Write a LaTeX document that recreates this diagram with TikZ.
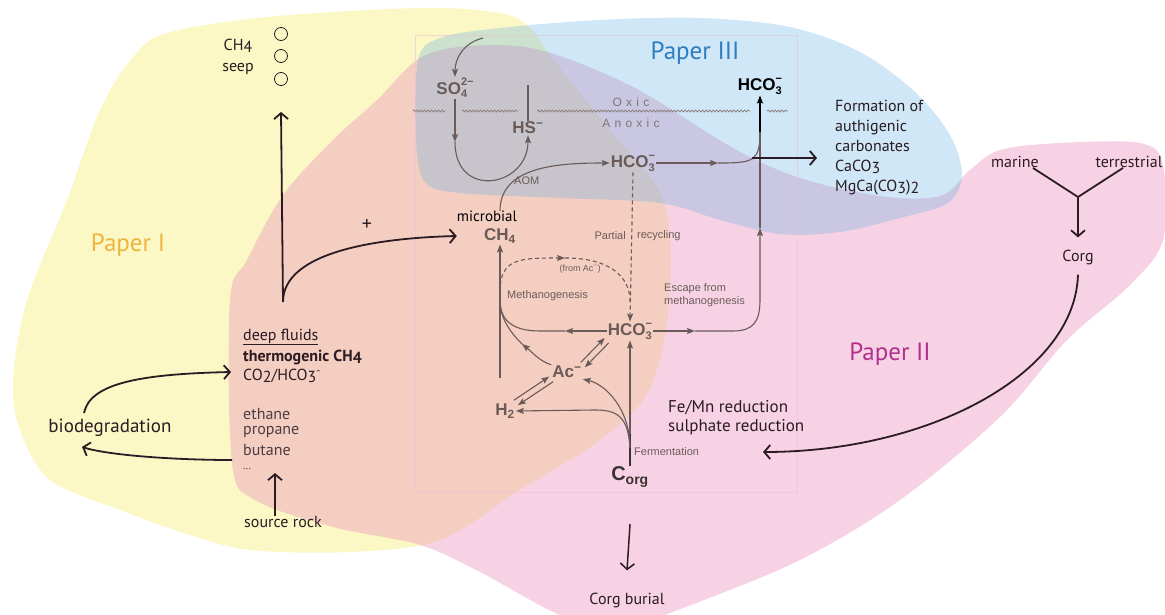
\documentclass[tikz,border=0pt]{standalone}
\usepackage{fontspec}
\setmainfont{PT Sans}
\newfontfamily\procfont{Liberation Sans}
\newfontfamily\spacedfont[LetterSpace=35]{Liberation Sans}
\usetikzlibrary{arrows.meta, positioning, decorations.pathmorphing}
\definecolor{BlobYellow}{HTML}{FCF8C6}
\definecolor{BlobPink}{HTML}{EC94BE}
\definecolor{BlobBlue}{HTML}{5FAFE1}
\definecolor{PaperYellow}{HTML}{EEB43C}
\definecolor{PaperPink}{HTML}{B0308C}
\definecolor{PaperBlue}{HTML}{2D7DC0}
\definecolor{ProcGray}{HTML}{6A5B58}
\definecolor{InkDark}{HTML}{2B1B22}
\newcommand{\subsup}[2]{\rlap{\raisebox{-0.4ex}{\fontsize{11}{11}\selectfont#1}}%
    \raisebox{0.95ex}{\fontsize{11}{11}\selectfont#2}}
\newcommand{\oldnum}[1]{\raisebox{-0.25ex}{#1}}

\begin{document}
\begin{tikzpicture}[x=1pt, y=-1pt,
    ann/.style={font=\fontsize{16}{19}\selectfont, text=InkDark, inner sep=0pt},
    paper/.style={font=\fontsize{25}{28}\selectfont, inner sep=0pt},
    chem/.style={font=\procfont\bfseries\fontsize{17}{19}\selectfont, text=ProcGray, inner sep=1pt},
    tiny/.style={font=\procfont\fontsize{11}{13}\selectfont, text=ProcGray, inner sep=0pt},
    flux/.style={line width=1.8pt, InkDark, -{Straight Barb[length=6pt,width=14pt]}},
    proc/.style={line width=1.1pt, ProcGray, -{Stealth[length=8pt,width=6pt,inset=1.5pt]}},
    procline/.style={line width=1.1pt, ProcGray},
]
\useasboundingbox (0,0) rectangle (1165,615);

% ---- the three papers ----
\fill[BlobYellow] plot[smooth cycle, tension=0.55] coordinates {
    (133,57) (167,33) (267,17) (420,8) (500,13) (530,28) (552,58) (610,130) (665,205)
    (668,313) (648,392) (600,440) (520,490) (440,540) (350,552) (250,550) (190,535)
    (120,510) (50,480) (20,430) (13,380) (27,300) (67,200) (100,110)};
\fill[BlobPink, fill opacity=0.42] plot[smooth cycle, tension=0.55] coordinates {
    (377,100) (420,58) (470,46) (540,50) (633,87) (733,148) (800,178) (880,196)
    (940,196) (970,170) (1000,150) (1060,143) (1140,143) (1163,165) (1163,240)
    (1130,285) (1067,340) (1000,417) (900,500) (800,560) (683,608) (620,628)
    (560,615) (480,572) (420,545) (333,527) (255,500) (232,463) (230,300)
    (247,260) (283,195) (333,140)};
\fill[BlobBlue, fill opacity=0.3] plot[smooth cycle, tension=0.55] coordinates {
    (418,60) (440,38) (500,28) (600,20) (700,18) (790,27) (860,52) (915,92) (950,135)
    (962,175) (948,203) (900,218) (840,232) (780,234) (720,220) (660,203) (560,198)
    (460,193) (425,182) (416,140)};
\draw[PaperPink!30, opacity=0.6, line width=0.6pt] (415,35) rectangle (797,492);

% ---- oxic / anoxic boundary ----
\foreach \a/\b in {413/445, 462/518, 537/750, 767/788}
    \draw[ProcGray!80, line width=0.7pt, decorate,
        decoration={snake, amplitude=1pt, segment length=3.5pt}] (\a,111) -- (\b,111);
\node[tiny, font=\spacedfont\fontsize{12}{14}\selectfont, text=ProcGray!85] (oxic) at (631,102) {Oxic};
\node[tiny, font=\spacedfont\fontsize{12}{14}\selectfont, text=ProcGray!85] (anoxic) at (631,123) {Anoxic};

% ---- species ----
\node[chem] (so4) at (455,88) {SO\subsup{4}{2−}};
\node[chem] (hs) at (528,128) {HS\textsuperscript{−}};
\node[chem, text=black] (hcotop) at (760,86) {HCO\subsup{3}{−}};
\node[chem] (hcoa) at (633,163) {HCO\subsup{3}{−}};
\node[chem] (ch4) at (500,236) {CH\textsubscript{4}};
\node[ann, font=\fontsize{15}{17}\selectfont, text=black, anchor=south] (micro) at (487,222) {microbial};
\node[chem] (hcob) at (630,331) {HCO\subsup{3}{−}};
\node[chem] (ac) at (567,372) {Ac\textsuperscript{−}};
\node[chem] (htwo) at (505,411) {H\textsubscript{2}};
\node[chem, text=ProcGray!55!black, font=\procfont\bfseries\fontsize{20}{22}\selectfont] (corg) at (630,477) {C\textsubscript{org}};

\node[tiny, right] (aom) at (514,181) {AOM};
\node[tiny, left] (partial) at (626,236) {Partial};
\node[tiny, right] (recyc) at (637,236) {recycling};
\node[tiny, font=\procfont\fontsize{9}{11}\selectfont] (fromac) at (580,269) {(from Ac\textsuperscript{−})};
\node[tiny, right] (methano) at (507,296) {Methanogenesis};
\node[tiny, right, align=left] (escape) at (664,295) {Escape from\\methanogenesis};
\node[tiny, right] (ferm) at (634,452) {Fermentation};

% ---- process arrows ----
\coordinate (so4In) at (483,38);
\coordinate (so4mid) at (455,142);
\coordinate (hmid) at (718,163);
\coordinate (upjoin) at (760,132);
\coordinate (ch4base) at (500,378);
\coordinate (mg) at (500,300);
\coordinate (dashTop) at (565,258);
\coordinate (hleft) at (565,331);
\coordinate (hright) at (695,331);
\coordinate (bend) at (733,331);
\coordinate (rise) at (760,300);
\coordinate (upArr) at (760,228);
\coordinate (acMid) at (522,344);
\coordinate (fork2) at (630,448);
\coordinate (hbend) at (595,410);

\draw[proc] (so4In) .. controls +(-20,5) and +(0,-18) .. (so4.north);
\draw[proc] (so4.south) -- (so4mid);
\draw[proc] (so4mid) .. controls +(0,58) and +(0,52) .. (hs.south);
\draw[procline] (hs.north) -- ++(0,-36);
\draw[proc] (ch4.north |- micro.north) .. controls +(0,-45) and +(-50,0) .. (hcoa.west);
\draw[proc] (hcoa.east) -- (hmid);
\draw[procline] (hmid) .. controls +(35,0) and +(0,30) .. (upjoin);
\draw[proc, black, line width=1.7pt] (upjoin) -- (hcotop.south);
\draw[proc, dash pattern=on 4pt off 3pt] (hcoa.south) -- (hcob.north);
\draw[proc] (ch4base) -- (ch4.south);
\draw[proc, dash pattern=on 4pt off 3pt] (mg) ++(0,-8) .. controls +(0,-34) and +(-45,0) .. (dashTop);
\draw[procline, dash pattern=on 4pt off 3pt] (dashTop) .. controls +(45,0) and +(0,-25) .. ([yshift=20pt]hcob.north);
\draw[proc] (hcob.west) -- (hleft);
\draw[procline] (hleft) -- ++(-25,0) .. controls +(-28,0) and +(0,20) .. (mg);
\draw[proc] (hcob.east) -- (hright);
\draw[proc] (hright) -- (bend) .. controls +(20,0) and +(0,22) .. (rise) -- (upArr);
\draw[procline] (upArr) -- (upjoin);
\draw[proc] (ac.north west) .. controls +(-12,-4) and +(10,8) .. (acMid);
\draw[procline] (acMid) .. controls +(-12,-12) and +(0,18) .. (mg);
\draw[proc] ([shift={(-2pt,2.5pt)}]ac.north east) -- ([shift={(-2pt,2.5pt)}]hcob.south west);
\draw[proc] ([shift={(2pt,-2.5pt)}]hcob.south west) -- ([shift={(2pt,-2.5pt)}]ac.north east);
\draw[proc] ([shift={(-2pt,2.5pt)}]htwo.north east) -- ([shift={(-2pt,2.5pt)}]ac.south west);
\draw[proc] ([shift={(2pt,-2.5pt)}]ac.south west) -- ([shift={(2pt,-2.5pt)}]htwo.north east);
\draw[proc] (corg.north) -- (hcob.south);
\draw[line width=2.4pt, ProcGray!55!black] (corg.north) -- ++(0,-32);
\draw[proc] (fork2) .. controls +(0,-40) and +(22,5) .. (ac.south east);
\draw[proc] (fork2) .. controls +(-2,-32) and +(22,0) .. (hbend) -- (htwo.east);

% ---- deep fluids ----
\node[ann, align=center, font=\fontsize{16}{21}\selectfont] (seep) at (238,57) {CH\oldnum{4}\\seep};
\foreach \y [count=\i] in {34,56,79}
    \node[circle, draw=InkDark, line width=0.8pt, minimum size=13pt, inner sep=0pt] (bub\i) at (281,\y) {};
\node[ann, anchor=west] (deep) at (243,337) {\underline{deep fluids}};
\node[ann, anchor=west, font=\bfseries\fontsize{16}{19}\selectfont] (thermo) at (243,357) {thermogenic CH\oldnum{4}};
\node[ann, anchor=west] (co2) at (243,376) {CO\oldnum{2}/HCO\oldnum{3}\textsuperscript{-}};
\node[ann, anchor=west, text=InkDark!85] (ethane) at (243,414) {ethane};
\node[ann, anchor=west, text=InkDark!85] (propane) at (243,432) {propane};
\node[ann, anchor=west, text=InkDark!85] (butane) at (243,450) {butane};
\node[ann, anchor=west, font=\fontsize{10}{12}\selectfont] (dots) at (243,469) {...};
\node[ann] (src) at (283,522) {source rock};
\node[ann, font=\fontsize{19}{22}\selectfont] (bio) at (110,428) {biodegradation};
\node[ann, font=\fontsize{20}{22}\selectfont] (plus) at (367,225) {+};

\coordinate (fork) at (283,302);
\coordinate (srcTip) at (275,473);
\draw[flux] (fork) -- ([yshift=-26pt]bub3.south);
\draw[flux] (fork) .. controls +(0,-50) and +(-80,2) .. (micro.west |- ch4.west);
\draw[flux] ([shift={(-26pt,6pt)}]bio.north) .. controls +(6,-30) and +(-90,2) .. ([shift={(-12pt,4pt)}]co2.west);
\draw[flux] ([shift={(-11pt,-10pt)}]butane.west) .. controls +(-60,0) and +(25,8) .. ([shift={(-28pt,-10pt)}]bio.south);
\draw[flux] (src.north -| srcTip) -- (srcTip);

% ---- carbonates ----
\node[ann, anchor=north west, align=left, font=\fontsize{16}{20}\selectfont] (carb) at (835,100)
    {Formation of\\authigenic\\carbonates\\CaCO\oldnum{3}\\MgCa(CO\oldnum{3})\oldnum{2}};
\coordinate (cstart) at (752,158);
\coordinate (ctip) at (817,158);
\draw[flux] (cstart) -- (ctip);

% ---- organic matter ----
\node[ann] (marine) at (1015,162) {marine};
\node[ann] (terr) at (1129,162) {terrestrial};
\coordinate (ymeet) at (1078,197);
\node[ann] (corgR) at (1078,257) {Corg};
\draw[line width=1.8pt, InkDark] ([xshift=18pt]marine.south) -- (ymeet) -- ([xshift=-6pt]terr.south);
\draw[flux, shorten >=12pt] (ymeet) -- (corgR.north);
\node[ann, anchor=west, align=left, font=\fontsize{17}{19}\selectfont] (fe) at (668,418)
    {Fe/Mn reduction\\sulphate reduction};
\coordinate (feTip) at (763,452);
\draw[flux] ([yshift=-10pt]corgR.south) .. controls +(-3,100) and +(165,0) .. (feTip);
\node[ann] (burial) at (627,600) {Corg burial};
\draw[flux, line width=1.5pt] ([yshift=-36pt]corg.south) -- ([yshift=22pt]burial.north);

% ---- labels ----
\node[paper, text=PaperYellow] (p1) at (128,245) {Paper I};
\node[paper, text=PaperBlue] (p3) at (695,53) {Paper III};
\node[paper, text=PaperPink] (p2) at (890,354) {Paper II};

\end{tikzpicture}
\end{document}
